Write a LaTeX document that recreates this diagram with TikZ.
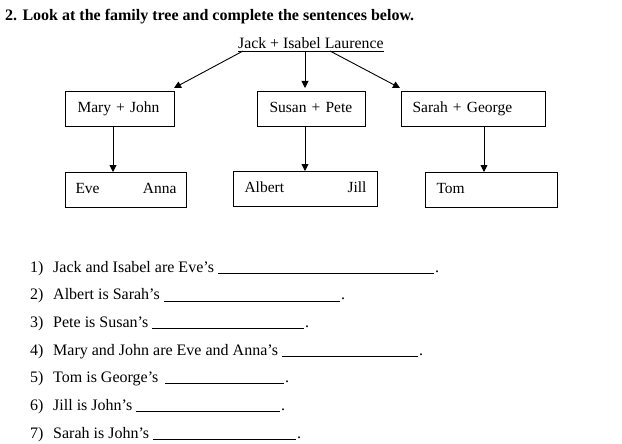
\documentclass[tikz,border=0pt]{standalone}
\usepackage{fontspec}
\setmainfont{Liberation Serif}
\usetikzlibrary{arrows.meta}
\tikzset{
  txt/.style={inner sep=0pt, anchor=base west, font=\fontsize{16}{19}\selectfont},
  famrect/.style={draw, line width=1pt, anchor=north west, minimum height=35pt,
    inner ysep=0pt, text height=10pt, text depth=3pt, align=left,
    font=\fontsize{15.5}{18}\selectfont},
  arr/.style={line width=0.9pt, -{Triangle[length=7pt,width=7pt]}},
  blank/.style={line width=0.9pt},
}
\begin{document}
\begin{tikzpicture}[x=1pt,y=-1pt]
\fill[white] (0,0) rectangle (622,444);
\useasboundingbox (0,0) rectangle (622,444);

\node[txt, font=\fontsize{16}{19}\selectfont\bfseries] (title) at (5,21)
  {2. Look at the family tree and complete the sentences below.};

\node[txt, font=\fontsize{15.8}{19}\selectfont] (top) at (238,49) {Jack + Isabel Laurence};
\draw[line width=0.8pt] ([yshift=-2.5pt]top.base west) -- ([yshift=-2.5pt]top.base east);
\coordinate (s1) at ([xshift=5pt,yshift=-2pt]top.base west);
\coordinate (s2) at ([xshift=67pt,yshift=-2pt]top.base west);
\coordinate (s3) at ([xshift=92pt,yshift=-2pt]top.base west);

\node[famrect, inner xsep=12pt, text width=85pt] (mary) at (65,91) {Mary + John};
\node[famrect, inner xsep=12pt, text width=84pt] (susan) at (257,91) {Susan + Pete};
\node[famrect, inner xsep=11pt, text width=122pt] (sarah) at (401,91) {Sarah + George};

\node[famrect, inner xsep=10pt, text width=101pt] (eve) at (65,172) {Eve\hfill Anna\hspace{3pt}};
\node[famrect, inner xsep=11pt, text width=122pt] (albert) at (233,171) {Albert\hfill Jill\hspace{12pt}};
\node[famrect, inner xsep=11pt, text width=110pt] (tom) at (425,172) {Tom};

\draw[arr] (s1) -- ([xshift=-1pt,yshift=3pt]mary.north east);
\draw[arr] (s2) -- ([yshift=3pt]susan.north -| s2);
\draw[arr] (s3) -- ([xshift=-1pt,yshift=3pt]sarah.north west);

\draw[arr] (mary.south -| 113,0) -- (eve.north -| 113,0);
\draw[arr] (susan.south -| 305,0) -- (albert.north -| 305,0);
\draw[arr] (sarah.south -| 484,0) -- (tom.north -| 484,0);

% sentences
\foreach \n/\y/\t/\a/\b in {
  1/272/{Jack and Isabel are Eve’s}/218/434,
  2/299.7/{Albert is Sarah’s}/164/340,
  3/327/{Pete is Susan’s}/152/304,
  4/355/{Mary and John are Eve and Anna’s}/282/418,
  5/382/{Tom is George’s}/165/284,
  6/410/{Jill is John’s}/136/280,
  7/438/{Sarah is John’s}/153/296}{
  \node[txt] (num\n) at (30,\y) {\n)};
  \node[txt] (sen\n) at (53,\y) {\t};
  \coordinate (la\n) at (\a,\y+1.3);
  \coordinate (lb\n) at (\b,\y+1.3);
  \draw[blank] (la\n) -- (lb\n);
  \node[txt] (dot\n) at (\b+1,\y) {.};
}
\end{tikzpicture}
\end{document}
